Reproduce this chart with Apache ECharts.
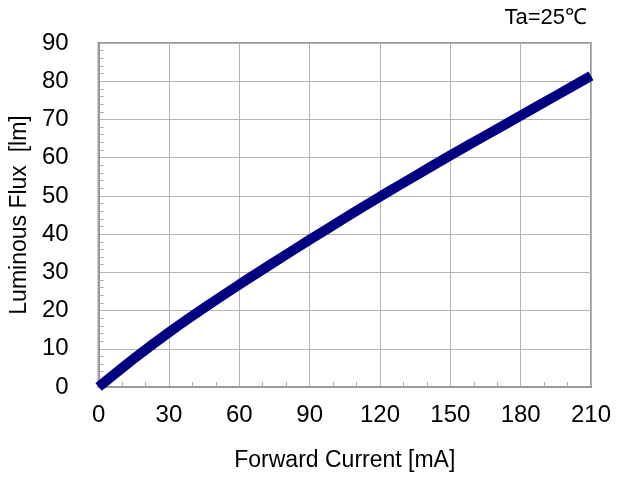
<!DOCTYPE html>
<html>
<head>
<meta charset="utf-8">
<script src="https://cdn.jsdelivr.net/npm/echarts@6/dist/echarts.min.js"></script>
<style>html,body{margin:0;padding:0;background:#fff}#c{width:624px;height:479px}</style>
</head>
<body>
<div id="c"></div>
<script>
const currents = [0, 15, 30, 45, 60, 75, 90, 105, 120, 135, 150, 165, 180, 195, 210];
const flux = [0, 7.4, 14.3, 20.7, 26.8, 32.7, 38.5, 44.2, 49.8, 55.2, 60.6, 65.8, 71.0, 76.2, 81.4];
const xTicks = [0, 30, 60, 90, 120, 150, 180, 210];
const yTicks = [0, 10, 20, 30, 40, 50, 60, 70, 80, 90];

const FONT = '"Liberation Sans", Arial, sans-serif';
const chart = echarts.init(document.getElementById('c'), null, {renderer: 'canvas'});
chart.setOption({
  animation: false,
  backgroundColor: '#fff',
  title: {
    text: 'Ta=25℃', right: 32, top: 2,
    textStyle: {fontFamily: FONT, fontSize: 22, fontWeight: 'normal', color: '#000'}
  },
  grid: {left: 96, right: 33, top: 43, bottom: 92, show: true, borderColor: '#999', borderWidth: 2, containLabel: false},
  xAxis: {
    type: 'value', min: xTicks[0], max: xTicks[xTicks.length - 1], interval: 30,
    name: 'Forward Current [mA]', nameLocation: 'middle', nameGap: 62,
    nameTextStyle: {fontFamily: FONT, fontSize: 23, color: '#000'},
    axisLine: {show: true, lineStyle: {color: '#999', width: 2}},
    axisTick: {show: false, inside: true},
    minorTick: {show: true, splitNumber: 3, length: 5, lineStyle: {color: '#aaa', width: 1}},
    axisLabel: {fontFamily: FONT, fontSize: 24, color: '#000', margin: 16},
    splitLine: {show: true, lineStyle: {color: '#b4b4b4', width: 1}},
    minorSplitLine: {show: false}
  },
  yAxis: {
    type: 'value', min: yTicks[0], max: yTicks[yTicks.length - 1], interval: 10,
    name: 'Luminous Flux  [lm]', nameLocation: 'middle', nameGap: 64,
    nameTextStyle: {fontFamily: FONT, fontSize: 23, color: '#000'},
    axisLine: {show: true, lineStyle: {color: '#999', width: 2}},
    axisTick: {show: false, inside: true},
    minorTick: {show: true, splitNumber: 5, length: 5, lineStyle: {color: '#aaa', width: 1}},
    axisLabel: {fontFamily: FONT, fontSize: 24, color: '#000', margin: 30},
    splitLine: {show: true, lineStyle: {color: '#b4b4b4', width: 1}}
  },
  series: [{
    type: 'line', smooth: 0.3, symbol: 'none',
    data: currents.map((c, i) => [c, flux[i]]),
    lineStyle: {color: '#000080', width: 10, cap: 'butt'},
    clip: true
  }]
});
</script>
</body>
</html>
